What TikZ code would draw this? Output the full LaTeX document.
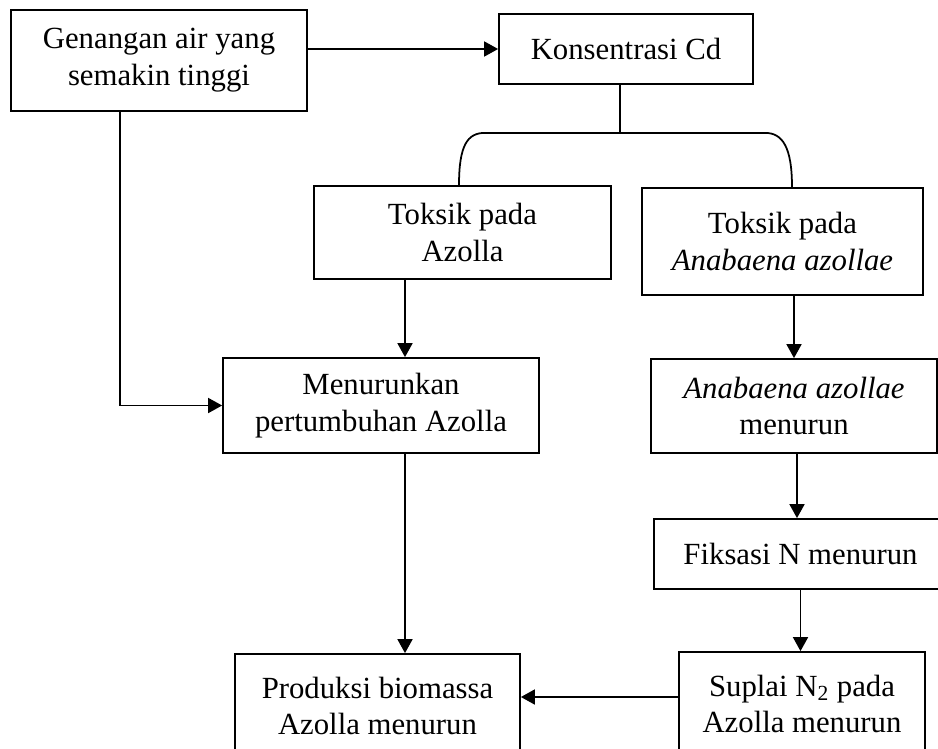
\documentclass[tikz,border=0pt]{standalone}
\usepackage{fontspec}
\setmainfont{Liberation Serif}
\usetikzlibrary{arrows.meta, positioning, calc}
\tikzset{
  every picture/.style={line width=1pt},
  box/.style={draw, align=center, inner sep=4pt, font=\fontsize{17.5}{21}\selectfont},
  arrow/.style={-{Triangle[length=0.28cm, width=0.3cm]}},
}

\begin{document}
\begin{tikzpicture}
  \useasboundingbox (0,0) rectangle (18.76,-14.98);
  \clip (0,0) rectangle (18.76,-14.98);
  % top row
  \node[box, minimum width=5.92cm, minimum height=2.02cm] (gen) at (3.18,-1.21) {Genangan air yang\\semakin tinggi};
  \node[box, minimum width=5.08cm, minimum height=1.40cm] (kons) at (12.52,-0.98) {Konsentrasi Cd};
  % toxic effects
  \node[box, minimum width=5.94cm, minimum height=1.86cm] (toxA) at (9.25,-4.65) {Toksik pada\\Azolla};
  \node[box, minimum width=5.62cm, minimum height=2.14cm] (toxB) at (15.65,-4.83) {Toksik pada\\\textit{Anabaena azollae}};
  % left branch
  \node[box, minimum width=6.32cm, minimum height=1.90cm] (turun) at (7.62,-8.11) {Menurunkan\\pertumbuhan Azolla};
  \node[box, minimum width=5.70cm, minimum height=2.08cm] (prod) at (7.55,-14.12) {Produksi biomassa\\Azolla menurun};
  % right branch
  \node[box, minimum width=5.72cm, minimum height=1.88cm] (anaM) at (15.88,-8.12) {\textit{Anabaena azollae}\\menurun};
  \node[box, minimum width=5.86cm, minimum height=1.40cm] (fiks) at (16.01,-11.08) {Fiksasi N menurun};
  \node[box, minimum width=4.92cm, minimum height=2.08cm] (sup) at (16.04,-14.08) {Suplai N\textsubscript{2} pada\\Azolla menurun};

  % connectors
  \draw[arrow] (kons.west -| gen.east) -- (kons.west);
  \draw[arrow] ([xshift=-0.78cm]gen.south) |- (turun.west);
  \draw ([xshift=-0.12cm]kons.south) -- ++(0,-0.96) coordinate (fork);
  \draw ([xshift=-0.07cm]toxA.north) .. controls +(0,0.8) and +(-0.35,0) .. ([xshift=-2.7cm]fork)
    -- ([xshift=2.9cm]fork) .. controls +(0.35,0) and +(0,0.8) .. ([xshift=0.19cm]toxB.north);
  \draw[arrow] ([xshift=0.48cm]turun.north |- toxA.south) -- ([xshift=0.48cm]turun.north);
  \draw[arrow] ([xshift=0.48cm]turun.south) -- ([xshift=0.48cm]turun.south |- prod.north);
  \draw[arrow] (anaM.north |- toxB.south) -- (anaM.north);
  \draw[arrow] ([xshift=0.06cm]anaM.south) -- ([xshift=0.06cm]anaM.south |- fiks.north);
  \draw[arrow] (fiks.south) -- (fiks.south |- sup.north);
  \draw[arrow] ([yshift=0.14cm]sup.west) -- ([yshift=0.14cm]sup.west -| prod.east);
\end{tikzpicture}
\end{document}
